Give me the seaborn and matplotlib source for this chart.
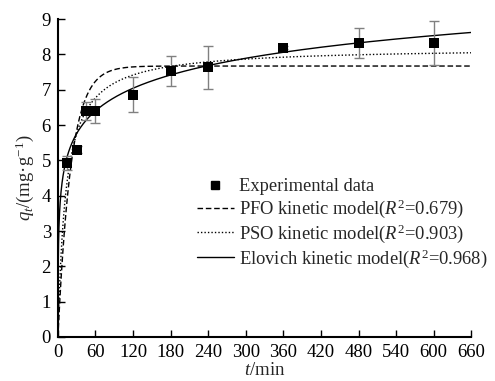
import numpy as np
import pandas as pd
import matplotlib
matplotlib.use("Agg")
import matplotlib.pyplot as plt
import seaborn as sns

# Experimental data
t_exp = [15, 30, 45, 60, 120, 180, 240, 360, 480, 600]
q_exp = [4.93, 5.30, 6.40, 6.40, 6.86, 7.52, 7.63, 8.19, 8.32, 8.32]
q_err = [0.20, 0.10, 0.25, 0.35, 0.50, 0.42, 0.60, 0.05, 0.42, 0.63]

# Fitted model parameters
pfo_qe, pfo_k1 = 7.67, 0.048
pso_qe, pso_k2 = 8.20, 0.00962
elo_alpha, elo_beta = 15.5, 1.08

x_ticks = [0, 60, 120, 180, 240, 300, 360, 420, 480, 540, 600, 660]
y_ticks = [0, 1, 2, 3, 4, 5, 6, 7, 8, 9]

labels = ["Experimental data",
          "PFO kinetic model($R^2$=0.679)",
          "PSO kinetic model($R^2$=0.903)",
          "Elovich kinetic model($R^2$=0.968)"]

sns.set_theme(style="ticks")
plt.rcParams['font.family'] = ['Liberation Serif', 'DejaVu Serif']
plt.rcParams['mathtext.fontset'] = 'custom'
plt.rcParams['mathtext.rm'] = 'Liberation Serif'
plt.rcParams['mathtext.it'] = 'Liberation Serif:italic'
plt.rcParams['mathtext.default'] = 'it'

t = np.linspace(0, 660, 2000)
curves = pd.DataFrame({
    "t": np.concatenate([t, t, t]),
    "q": np.concatenate([
        pfo_qe * (1 - np.exp(-pfo_k1 * t)),
        pso_k2 * pso_qe**2 * t / (1 + pso_k2 * pso_qe * t),
        np.log(1 + elo_alpha * elo_beta * t) / elo_beta,
    ]),
    "model": [labels[1]] * len(t) + [labels[2]] * len(t) + [labels[3]] * len(t),
})

fig = plt.figure(figsize=(4.95, 3.81), dpi=100)
ax = fig.add_axes([0.117, 0.1155, 0.835, 0.8345])

styles = {labels[1]: (0, (4, 2)), labels[2]: (0, (1, 1.5)), labels[3]: "-"}
handles = []
for lab in labels[1:]:
    sub = curves[curves["model"] == lab]
    sns.lineplot(data=sub, x="t", y="q", ax=ax, color="black", lw=1.0,
                 linestyle=styles[lab], label=lab, legend=False)
    handles.append(ax.lines[-1])

ax.errorbar(t_exp, q_exp, yerr=q_err, fmt="none", ecolor="#808080",
            elinewidth=1.0, capsize=3.5, capthick=1.0, zorder=3)
sns.scatterplot(x=t_exp, y=q_exp, ax=ax, marker="s", s=45, color="black",
                edgecolor="black", linewidth=0, zorder=4, legend=False)
sq = plt.Line2D([], [], marker="s", color="black", ls="none", markersize=5.5)

ax.set_xlim(0, 660)
ax.set_ylim(0, 9)
ax.set_xticks(x_ticks)
ax.set_yticks(y_ticks)
ax.tick_params(direction="in", length=5, width=1, labelsize=13.5, colors="black", pad=5)
for s in ["top", "right"]:
    ax.spines[s].set_visible(False)
for s in ["left", "bottom"]:
    ax.spines[s].set_linewidth(1.5)
    ax.spines[s].set_color("black")

ax.set_xlabel("$t$/min", fontsize=13.5, labelpad=1)
ax.set_ylabel("$q_t$/(mg·g$^{-1}$)", fontsize=13.5, labelpad=4)

fig.legend([sq] + handles, labels, loc="upper left",
           bbox_to_anchor=(0.398, 0.532), frameon=False, fontsize=13.3,
           handlelength=2.0, handletextpad=0.28, labelspacing=0.12,
           borderaxespad=0, borderpad=0)

fig.savefig("out.png", dpi=100)
